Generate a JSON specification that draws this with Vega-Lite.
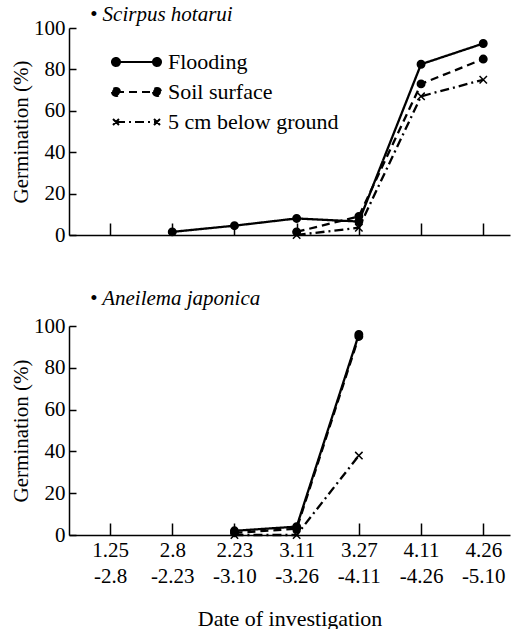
{
  "$schema": "https://vega.github.io/schema/vega-lite/v6.json",
  "background": "white",
  "padding": {"left": 10, "top": 4, "right": 5, "bottom": 0},
  "spacing": 43,
  "config": {
    "font": "Liberation Serif, Times New Roman, DejaVu Serif, serif",
    "view": {"stroke": null},
    "axis": {
      "domainColor": "black", "tickColor": "black", "labelColor": "black", "titleColor": "black",
      "labelFont": "Liberation Serif, Times New Roman, DejaVu Serif, serif", "titleFont": "Liberation Serif, Times New Roman, DejaVu Serif, serif",
      "labelFontSize": 21, "titleFontSize": 21, "titleFontWeight": "normal",
      "grid": false, "domainWidth": 1.5, "tickWidth": 1.5
    },
    "title": {"font": "Liberation Serif, Times New Roman, DejaVu Serif, serif", "fontStyle": "italic", "fontWeight": "normal", "fontSize": 21, "anchor": "start", "color": "black", "frame": "group"}
  },
  "vconcat": [
    {
      "width": 441, "height": 207,
      "title": {"text": "• Scirpus hotarui", "dx": 21, "offset": -8},
      "data": {"values": [
        {"series": "Flooding", "idx": 2, "value": 1.5},
        {"series": "Flooding", "idx": 3, "value": 4.5},
        {"series": "Flooding", "idx": 4, "value": 8},
        {"series": "Flooding", "idx": 5, "value": 6.5},
        {"series": "Flooding", "idx": 6, "value": 82.5},
        {"series": "Flooding", "idx": 7, "value": 92.5},
        {"series": "Soil surface", "idx": 4, "value": 1.5},
        {"series": "Soil surface", "idx": 5, "value": 9},
        {"series": "Soil surface", "idx": 6, "value": 73},
        {"series": "Soil surface", "idx": 7, "value": 85},
        {"series": "5 cm below ground", "idx": 4, "value": 0},
        {"series": "5 cm below ground", "idx": 5, "value": 3.5},
        {"series": "5 cm below ground", "idx": 6, "value": 67},
        {"series": "5 cm below ground", "idx": 7, "value": 75}
      ]},
      "encoding": {
        "x": {"field": "idx", "type": "quantitative",
              "scale": {"domain": [0.34, 7.43], "nice": false, "zero": false},
              "axis": {"values": [1, 2, 3, 4, 5, 6, 7], "labels": false, "tickSize": -12, "title": null}},
        "y": {"field": "value", "type": "quantitative",
              "scale": {"domain": [0, 100], "nice": false},
              "axis": {"values": [0, 20, 40, 60, 80, 100], "tickSize": -7, "labelPadding": 11, "title": "Germination (%)", "titlePadding": 2}}
      },
      "layer": [
        {
          "mark": {"type": "line", "color": "black", "strokeWidth": 2.3},
          "encoding": {
            "strokeDash": {"field": "series", "type": "nominal",
              "scale": {"domain": ["Flooding", "Soil surface", "5 cm below ground"], "range": [[1, 0], [8, 5], [9, 4, 2, 4]]},
              "legend": {
                "orient": "none", "legendX": 55, "legendY": 23, "title": null,
                "symbolType": "M-3.8,0H4.4M-4.6,0A0.8,0.8,0,1,0,-3.0,0A0.8,0.8,0,1,0,-4.6,0ZM3.6,0A0.8,0.8,0,1,0,5.2,0A0.8,0.8,0,1,0,3.6,0Z",
                "symbolSize": 100, "symbolStrokeWidth": 2, "symbolStrokeColor": "black",
                "labelFont": "Liberation Serif, Times New Roman, DejaVu Serif, serif", "labelFontSize": 22, "labelColor": "black",
                "labelOffset": 22, "rowPadding": 8, "labelLimit": 300,
                "encode": {"symbols": {"update": {
                  "fill": {"value": "black"},
                  "stroke": {"value": "black"},
                  "shape": {"signal": "datum.value === '5 cm below ground' ? 'M-3.8,0H4.4M-4.4,-0.6L-3.2,0.6M-4.4,0.6L-3.2,-0.6M3.8,-0.6L5.0,0.6M3.8,0.6L5.0,-0.6' : 'M-3.8,0H4.4M-4.6,0A0.8,0.8,0,1,0,-3.0,0A0.8,0.8,0,1,0,-4.6,0ZM3.6,0A0.8,0.8,0,1,0,5.2,0A0.8,0.8,0,1,0,3.6,0Z'"}
                }}}
              }}
          }
        },
        {
          "mark": {"type": "point", "fill": "black", "stroke": "black", "strokeWidth": 1.5, "opacity": 1, "size": 55},
          "encoding": {
            "shape": {"field": "series", "type": "nominal",
              "scale": {"domain": ["Flooding", "Soil surface", "5 cm below ground"], "range": ["circle", "circle", "M-1,-1L1,1M-1,1L1,-1"]},
              "legend": null}
          }
        }
      ],
      "resolve": {"scale": {"strokeDash": "independent", "shape": "independent"}}
    },
    {
      "width": 441, "height": 209,
      "title": {"text": "• Aneilema japonica", "dx": 21, "offset": 6},
      "data": {"values": [
        {"series": "Flooding", "idx": 3, "value": 2},
        {"series": "Flooding", "idx": 4, "value": 4},
        {"series": "Flooding", "idx": 5, "value": 96},
        {"series": "Soil surface", "idx": 3, "value": 1},
        {"series": "Soil surface", "idx": 4, "value": 3},
        {"series": "Soil surface", "idx": 5, "value": 95},
        {"series": "5 cm below ground", "idx": 3, "value": 0},
        {"series": "5 cm below ground", "idx": 4, "value": 0},
        {"series": "5 cm below ground", "idx": 5, "value": 38}
      ]},
      "encoding": {
        "x": {"field": "idx", "type": "quantitative",
              "scale": {"domain": [0.34, 7.43], "nice": false, "zero": false},
              "axis": {"values": [1, 2, 3, 4, 5, 6, 7], "tickSize": -12, "labelPadding": 16, "labelLineHeight": 26, "labelOverlap": false, "labelFlush": false,
                       "labelExpr": "[['1.25','-2.8'],['2.8','-2.23'],['2.23','-3.10'],['3.11','-3.26'],['3.27','-4.11'],['4.11','-4.26'],['4.26','-5.10']][datum.value-1]",
                       "title": "Date of investigation", "titleFontSize": 22, "titlePadding": 22}},
        "y": {"field": "value", "type": "quantitative",
              "scale": {"domain": [0, 100], "nice": false},
              "axis": {"values": [0, 20, 40, 60, 80, 100], "tickSize": -7, "labelPadding": 11, "title": "Germination (%)", "titlePadding": 2}}
      },
      "layer": [
        {
          "mark": {"type": "line", "color": "black", "strokeWidth": 2.3},
          "encoding": {
            "strokeDash": {"field": "series", "type": "nominal",
              "scale": {"domain": ["Flooding", "Soil surface", "5 cm below ground"], "range": [[1, 0], [8, 5], [9, 4, 2, 4]]},
              "legend": null}
          }
        },
        {
          "mark": {"type": "point", "fill": "black", "stroke": "black", "strokeWidth": 1.5, "opacity": 1, "size": 55},
          "encoding": {
            "shape": {"field": "series", "type": "nominal",
              "scale": {"domain": ["Flooding", "Soil surface", "5 cm below ground"], "range": ["circle", "circle", "M-1,-1L1,1M-1,1L1,-1"]},
              "legend": null}
          }
        }
      ]
    }
  ],
  "resolve": {"scale": {"strokeDash": "independent", "shape": "independent"}, "legend": {"strokeDash": "independent", "shape": "independent"}}
}
